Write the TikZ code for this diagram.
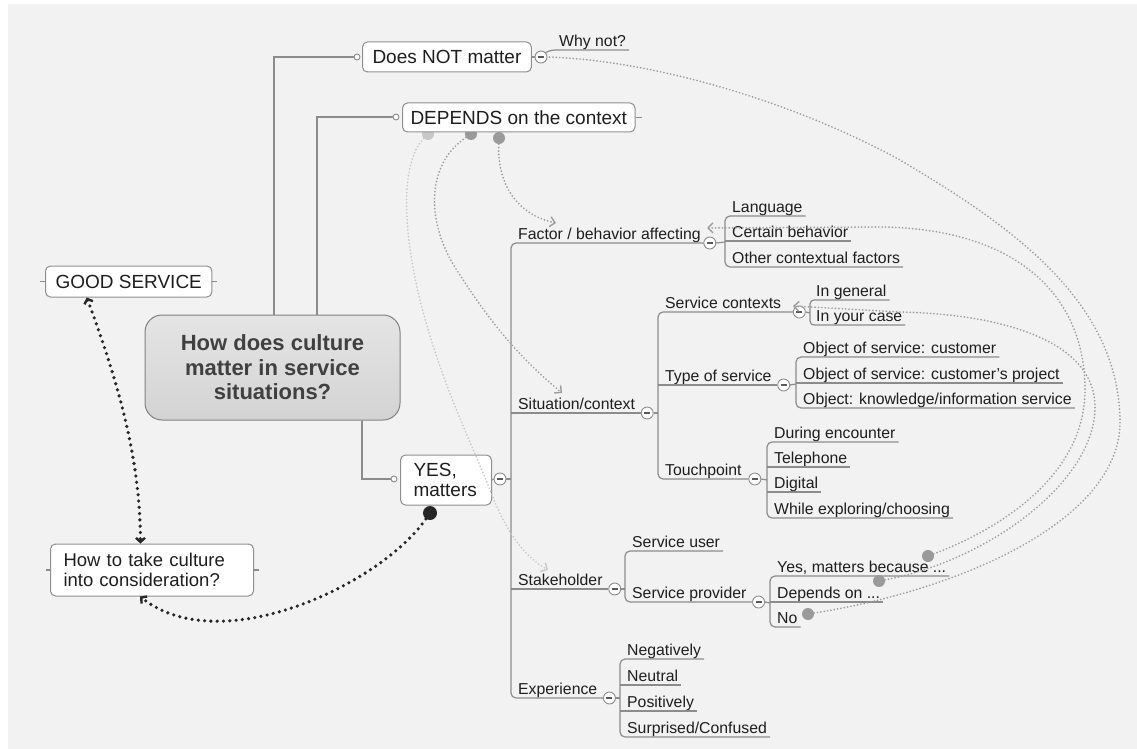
\documentclass[tikz,border=0pt]{standalone}
\usepackage{fontspec}
\setmainfont{Liberation Sans}
\usetikzlibrary{arrows.meta,calc}
\definecolor{bg}{HTML}{F2F2F2}
\definecolor{txt}{HTML}{1E1E1E}
\definecolor{linegray}{HTML}{8C8C8C}
\definecolor{boxgray}{HTML}{8F8F8F}
\definecolor{dotgray}{HTML}{9A9A9A}
\definecolor{lightdot}{HTML}{C8C8C8}
\definecolor{linkgray}{HTML}{9C9C9C}
\definecolor{centralfill}{HTML}{DEDEDE}
\definecolor{dark}{HTML}{262626}
\newcommand\mmsmall{\fontsize{15.8}{18}\selectfont}
\newcommand\mmbig{\fontsize{19}{20.5}\selectfont}
\newcommand\mmtitle{\fontsize{22}{24.5}\selectfont\bfseries}
\tikzset{
  tree/.style={draw=linegray, line width=1.2pt},
  lbl/.style={font=\mmsmall, text=txt, inner xsep=3pt, inner ysep=1pt, text height=11.5pt, text depth=2.5pt, anchor=south west},
  col/.style={circle, draw=linegray, fill=white, minimum size=12pt, inner sep=0pt, line width=0.9pt,
    path picture={\draw[black!65, line width=1.3pt] ([xshift=-3pt]path picture bounding box.center) -- ([xshift=3pt]path picture bounding box.center);}},
  hook/.style={circle, draw=linegray, fill=white, minimum size=6pt, inner sep=0pt, line width=0.9pt},
  topic/.style={draw=boxgray, fill=white, rounded corners=5pt, line width=1pt, font=\mmbig, text=txt, inner xsep=10pt, minimum height=30pt, anchor=west},
  gdot/.style={circle, fill=dotgray, minimum size=12pt, inner sep=0pt},
  link/.style={draw=linkgray, line width=1.9pt, dash pattern=on 0pt off 3.4pt, line cap=round},
  chev/.style={-{Straight Barb[length=5pt,width=10pt,line width=1.4pt]}},
  blink/.style={draw=dark, line width=3.6pt, dash pattern=on 0pt off 6.3pt, line cap=round},
  btip/.style={{Straight Barb[length=4pt,width=9pt,line width=2.4pt]}-{Straight Barb[length=4pt,width=9pt,line width=2.4pt]}},
}
\begin{document}
\begin{tikzpicture}[x=1pt,y=-1pt]
\useasboundingbox (0,0) rectangle (1137,749);
\fill[white] (0,0) rectangle (1137,749);
\fill[bg] (8,4) rectangle (1137,749);

% ---------- central topic and main branches ----------
\node[draw=boxgray!90!black, top color=centralfill!80!white, bottom color=centralfill!95!black, rounded corners=17pt, line width=1pt,
      minimum width=255pt, minimum height=105pt, align=center, font=\mmtitle, text=txt!85!white] (central) at (272.5,367.5)
      {How does culture\\matter in service\\situations?};

% link dots on DEPENDS (drawn below box)
\node[circle, fill=lightdot, minimum size=12pt, inner sep=0pt] (dep1) at (428,134) {};
\node[gdot] (dep2) at (471,134) {};
\node[gdot] (dep3) at (499,138) {};

\node[hook] (hk1) at (357,57) {};
\node[topic] (dnm) at (362,57) {Does NOT matter};
\draw[tree] ([xshift=1.5pt]central.north) |- (hk1.west);

\node[hook] (hk2) at (396,117) {};
\node[topic, inner xsep=8pt, minimum height=29pt] (dep) at (402,117.5) {DEPENDS on the context};
\draw[tree] ([xshift=44.5pt]central.north) |- (hk2.west);
\draw[tree] (dep.east) -- ++(6,0);

\node[hook] (hk3) at (394,479) {};
\node[topic, inner xsep=13pt, text width=65pt, align=left, minimum height=50pt] (yes) at (400,480) {YES,\\matters};
\draw[tree] ([xshift=89.5pt]central.south) |- (hk3.west);

\node[topic, minimum height=31pt] (good) at (45,281.5) {GOOD SERVICE};
\draw[tree] (good.west) -- ++(-5,0);
\draw[tree] (good.east) -- ++(5,0);

\node[topic, inner xsep=13pt, text width=177pt, align=left, minimum height=52pt, font=\fontsize{18.5}{20}\selectfont] (howto) at (50,570) {How to take culture\\into consideration?};
\draw[tree] (howto.west) -- ++(-4,0);
\draw[tree] (howto.east) -- ++(5,0);

% ---------- Does NOT matter -> Why not? ----------
\node[col] (wcol) at (541,57) {};
\draw[tree] (dnm.east) -- (wcol.west);
\node[lbl] (why) at (556,50) {Why not?};
\draw[tree, rounded corners=3pt] (wcol.north east) -- (552,50) -- (why.south east);

% ---------- YES trunk ----------
\node[col] (ycol) at (500,479) {};
\draw[tree] (yes.east) -- (ycol.west);
\draw[tree] (ycol.east) -- (511,479);

\node[lbl] (fac) at (515,243) {Factor / behavior affecting};
\node[col] (fcol) at ([xshift=6pt]fac.south east) {};
\node[lbl] (sit) at (515,413) {Situation/context};
\node[col] (sitcol) at ([xshift=9pt]sit.south east) {};
\node[lbl] (stk) at (515,589) {Stakeholder};
\node[col] (stkcol) at ([xshift=9pt]stk.south east) {};
\node[lbl] (exp) at (515,698) {Experience};
\node[col] (expcol) at ([xshift=9pt]exp.south east) {};
\draw[tree, rounded corners=5pt] (fcol.west) -- (511,243) -- (511,698) -- (expcol.west);
\draw[tree] (511,413) -- (sitcol.west);
\draw[tree] (511,589) -- (stkcol.west);

% ---------- Factor children ----------
\node[lbl] (lang) at (729,216) {Language};
\node[lbl] (cert) at (729,241) {Certain behavior};
\node[lbl] (othr) at (729,267) {Other contextual factors};
\draw[tree, rounded corners=5pt] (lang.south east) -- (725,216) -- (725,267) -- (othr.south east);
\draw[tree] (725,241) -- (cert.south east);
\draw[tree] (fcol.east) -- (725,242);

% ---------- Situation children ----------
\node[lbl] (svc) at (662,312) {Service contexts};
\node[col] (svccol) at ([xshift=15pt]svc.south east) {};
\node[lbl] (typ) at (662,385) {Type of service};
\node[col] (typcol) at ([xshift=9pt]typ.south east) {};
\node[lbl] (tch) at (662,479) {Touchpoint};
\node[col] (tchcol) at ([xshift=10pt]tch.south east) {};
\draw[tree, rounded corners=5pt] (svccol.west) -- (658,312) -- (658,479) -- (tchcol.west);
\draw[tree] (658,385) -- (typcol.west);
\draw[tree] (sitcol.east) -- (658,413);

% Service contexts children
\node[lbl] (gen) at (813,300) {In general};
\node[lbl] (case) at (813,325) {In your case};
\draw[tree, rounded corners=4pt] (gen.south east) -- (810,300) -- (810,325) -- (case.south east);
\draw[tree] (svccol.east) -- (810,313);

% Type of service children
\node[lbl] (o1) at (800,357) {Object of service: customer};
\node[lbl] (o2) at (800,383) {Object of service: customer's project};
\node[lbl] (o3) at (800,408) {Object: knowledge/information service};
\draw[tree, rounded corners=5pt] (o1.south east) -- (796,357) -- (796,408) -- (o3.south east);
\draw[tree] (796,383) -- (o2.south east);
\draw[tree] (typcol.east) -- (796,384);

% Touchpoint children
\node[lbl] (t1) at (771,442) {During encounter};
\node[lbl] (t2) at (771,467) {Telephone};
\node[lbl] (t3) at (771,492) {Digital};
\node[lbl] (t4) at (771,518) {While exploring/choosing};
\draw[tree, rounded corners=5pt] (t1.south east) -- (767,442) -- (767,518) -- (t4.south east);
\draw[tree] (767,467) -- (t2.south east);
\draw[tree] (767,492) -- (t3.south east);
\draw[tree] (tchcol.east) -- (767,480);

% ---------- Stakeholder children ----------
\node[lbl] (su) at (629,551) {Service user};
\node[lbl] (sp) at (629,602) {Service provider};
\node[col] (spcol) at ([xshift=9pt]sp.south east) {};
\draw[tree, rounded corners=5pt] (su.south east) -- (625,551) -- (625,602) -- (spcol.west);
\draw[tree] (stkcol.east) -- (625,589);

\node[lbl] (p1) at (774,576) {Yes, matters because ...};
\node[lbl] (p2) at (774,602) {Depends on ...};
\node[lbl] (p3) at (774,627) {No};
\draw[tree, rounded corners=5pt] (p1.south east) -- (770,576) -- (770,627) -- (p3.south east);
\draw[tree] (770,602) -- (p2.south east);
\draw[tree] (spcol.east) -- (770,603);

% ---------- Experience children ----------
\node[lbl] (e1) at (624,659) {Negatively};
\node[lbl] (e2) at (624,685) {Neutral};
\node[lbl] (e3) at (624,711) {Positively};
\node[lbl] (e4) at (624,737) {Surprised/Confused};
\draw[tree, rounded corners=5pt] (e1.south east) -- (620,659) -- (620,737) -- (e4.south east);
\draw[tree] (620,685) -- (e2.south east);
\draw[tree] (620,711) -- (e3.south east);
\draw[tree] (expcol.east) -- (620,698);

% ---------- relationship links ----------
\node[gdot] (ydot) at (928,556) {};
\node[gdot] (ddot) at (879,581) {};
\node[gdot] (ndot) at (808,614) {};

\coordinate (facend) at (707,228);
\coordinate (svcend) at (793,306);
\coordinate (sitend) at (562,393);
\coordinate (stkend) at (548,570);
\coordinate (facend2) at (556,223);

\draw[link, chev] (dep3) .. controls (497,185) and (518,215) .. (facend2);
\draw[link, chev] (dep2) .. controls (425,165) and (425,225) .. (460,275) .. controls (495,330) and (525,362) .. (sitend);
\draw[link, draw=lightdot, chev] (dep1) .. controls (398,165) and (405,240) .. (420,300) .. controls (440,380) and (470,440) .. (488,485) .. controls (505,530) and (522,555) .. (stkend);

\draw[link, chev] (ydot) .. controls (1010,525) and (1085,470) .. (1085,390) .. controls (1085,290) and (1010,228) .. (880,227) -- (facend);
\draw[link, chev] (ddot) .. controls (990,560) and (1097,480) .. (1095,405) .. controls (1093,340) and (1000,314) .. (900,312) -- (svcend);
\draw[link] (ndot) .. controls (960,590) and (1122,520) .. (1120,420) .. controls (1118,300) and (1010,225) .. (900,160) .. controls (790,100) and (650,60) .. (wcol.east);

% ---------- black links ----------
\node[circle, fill=dark, minimum size=14pt, inner sep=0pt] (bdot) at (430,513) {};
\draw[blink, -{Straight Barb[length=4pt,width=9pt,line width=2.4pt]}] (bdot) .. controls (380,585) and (220,660) .. ([xshift=-12pt]howto.south);
\draw[blink, btip] ([xshift=-42pt]good.south) .. controls (125,400) and (140,470) .. ([xshift=-11.5pt]howto.north);
\end{tikzpicture}
\end{document}
